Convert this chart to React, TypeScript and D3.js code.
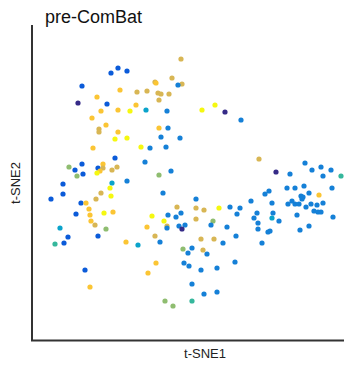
import React, { useRef, useEffect } from 'react';
import * as d3 from 'd3';

// parula-like batch colours
const batchColors = [
  '#352a87', '#0b5bd9', '#1580d7', '#0aa3cb', '#35b79c',
  '#8fbd70', '#d8b654', '#fbc534', '#f5f810',
];

// t-SNE coordinates (arbitrary units) and batch index
const tsne1 = [
  87, 80, 96, 51, 47, 66, 89, 106, 116, 76, 70, 87, 99, 105, 115, 61, 75, 68, 68, 87, 84, 96, 110, 62,
  150, 141, 124, 125, 151, 147, 127, 130, 138, 128, 136, 171, 184, 194, 210, 128, 137, 130, 149, 119, 135,
  84, 114, 38, 51, 44, 46, 52, 67, 72, 72, 69, 66, 81, 86, 81, 96, 32, 32, 20, 79, 70, 80, 65, 50, 55,
  58, 45, 59, 73, 82, 60, 64, 75, 29, 116, 37, 67, 24, 33, 95, 107,
  228, 128, 140, 132, 165, 220, 146, 165, 173, 188, 199, 209, 206, 226, 223, 121, 137, 150, 145, 165,
  133, 136, 136, 148, 154, 151, 182, 180, 196, 227, 227, 124, 129, 170, 183, 205, 192, 152, 161, 172,
  245, 259, 274, 281, 290, 300, 292, 310, 273, 256, 264, 301, 278, 288, 234, 238, 270, 272, 261, 257,
  264, 268, 271, 275, 280, 286, 292, 241, 283, 287, 290, 266, 302, 242, 241, 248, 278, 269, 239, 237, 231,
  54, 59, 117,
  157, 176, 125, 153, 158, 170, 186, 204, 161, 173, 186, 134, 161, 142,
];
const tsne2 = [
  273, 268, 270, 255, 238, 244, 251, 249, 250, 237, 230, 231, 230, 236, 231, 223, 216, 212, 209, 209, 202, 203, 194, 193,
  282, 263, 259, 258, 257, 256, 248, 247, 247, 241, 230, 231, 236, 229, 221, 213, 213, 204, 203, 193, 194,
  183, 179, 174, 177, 171, 165, 167, 173, 177, 173, 170, 168, 171, 174, 158, 160, 157, 147, 142, 153, 148, 145, 142, 138, 138,
  132, 127, 126, 128, 129, 120, 116, 112, 113, 114, 104, 105, 97, 98, 99, 96,
  182, 166, 170, 148, 142, 140, 134, 133, 131, 133, 134, 133, 127, 128, 123, 125, 126, 128, 124, 122,
  120, 115, 113, 115, 116, 112, 120, 116, 114, 118, 112, 105, 99, 102, 102, 105, 98, 92, 93, 91,
  169, 167, 178, 171, 174, 171, 165, 165, 155, 153, 153, 153, 148, 146, 147, 150, 145, 144, 140, 137,
  137, 137, 142, 134, 137, 136, 138, 138, 130, 129, 129, 126, 124, 128, 123, 120, 115, 111, 110, 109, 98,
  71, 54, 68,
  88, 87, 78, 78, 75, 71, 73, 79, 57, 47, 49, 40, 40, 35,
];
const batch = [
  1, 1, 1, 1, 0, 7, 7, 6, 6, 1, 7, 7, 8, 7, 3, 7, 7, 6, 6, 7, 8, 8, 8, 7,
  6, 6, 6, 7, 6, 2, 6, 6, 6, 6, 2, 8, 8, 0, 2, 7, 2, 2, 2, 2, 2,
  1, 2, 5, 1, 1, 5, 1, 1, 7, 6, 7, 8, 6, 6, 3, 2, 1, 1, 1, 8, 6, 8, 6, 1, 7,
  7, 1, 7, 8, 7, 7, 6, 5, 3, 7, 1, 1, 4, 1, 7, 3,
  6, 5, 2, 2, 2, 2, 6, 6, 6, 8, 2, 2, 2, 2, 2, 8, 2, 2, 2, 6,
  8, 6, 2, 2, 2, 0, 5, 2, 2, 2, 2, 6, 2, 6, 6, 2, 2, 5, 2, 6,
  0, 2, 2, 2, 2, 2, 2, 4, 2, 2, 2, 2, 2, 7, 2, 2, 2, 2, 2, 2,
  2, 2, 2, 2, 2, 2, 2, 2, 2, 2, 2, 2, 2, 2, 3, 2, 2, 2, 2, 2, 2,
  1, 7, 7,
  2, 2, 7, 2, 2, 2, 2, 2, 2, 2, 2, 5, 4, 5,
];

const App = () => {
  const svgRef = useRef<SVGSVGElement>(null);

  useEffect(() => {
    const svg = d3.select(svgRef.current);
    svg.selectAll('*').remove();

    const width = 344;
    const height = 365;
    const left = 31;
    const right = 344;
    const top = 25;
    const bottom = 341;

    const x = d3.scaleLinear().domain([0, 313]).range([left, right]);
    const y = d3.scaleLinear().domain([0, 316]).range([bottom, top]);

    svg.attr('width', width).attr('height', height).style('background', '#fff');

    const pts = tsne1.map((d, i) => ({ x: d, y: tsne2[i], b: batch[i] }));

    svg.append('g')
      .selectAll('circle')
      .data(pts)
      .enter()
      .append('circle')
      .attr('cx', d => x(d.x))
      .attr('cy', d => y(d.y))
      .attr('r', 2.6)
      .attr('fill', d => batchColors[d.b]);

    // axes: plain lines, no ticks
    svg.append('line')
      .attr('x1', left + 1).attr('x2', left + 1)
      .attr('y1', top).attr('y2', bottom)
      .attr('stroke', '#333').attr('stroke-width', 2);
    svg.append('line')
      .attr('x1', left).attr('x2', right)
      .attr('y1', bottom - 0.5).attr('y2', bottom - 0.5)
      .attr('stroke', '#333').attr('stroke-width', 2);

    const font = 'Liberation Sans, Arial, sans-serif';

    svg.append('text')
      .attr('x', 45).attr('y', 23)
      .attr('font-family', font).attr('font-size', 18)
      .attr('fill', '#111')
      .text('pre-ComBat');

    svg.append('text')
      .attr('x', 205).attr('y', 358)
      .attr('text-anchor', 'middle')
      .attr('font-family', font).attr('font-size', 13)
      .attr('fill', '#222')
      .text('t-SNE1');

    svg.append('text')
      .attr('transform', 'translate(20,183) rotate(-90)')
      .attr('text-anchor', 'middle')
      .attr('font-family', font).attr('font-size', 13)
      .attr('fill', '#222')
      .text('t-SNE2');
  }, []);

  return (
    <svg ref={svgRef} style={{ position: 'absolute', left: 0, top: 0, display: 'block' }}></svg>
  );
};

export default App;
